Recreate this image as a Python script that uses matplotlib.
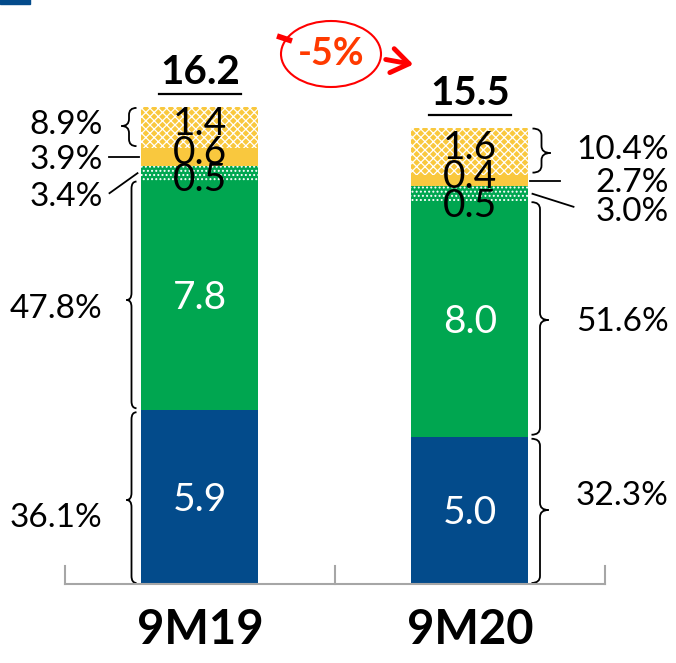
#!/usr/bin/env python3
"""Stacked bars 9M19 vs 9M20 with share brackets."""

import matplotlib

matplotlib.use("Agg")
import matplotlib.pyplot as plt
import numpy as np
from matplotlib.patches import Ellipse, FancyArrowPatch, PathPatch, Rectangle
from matplotlib.path import Path

plt.rcParams["font.family"] = ["Lato", "DejaVu Sans"]

# data (bottom to top)
periods = ["9M19", "9M20"]
blue_vals = [5.9, 5.0]
green_vals = [7.8, 8.0]
green_dot_vals = [0.5, 0.5]
yellow_vals = [0.6, 0.4]
yellow_pat_vals = [1.4, 1.6]
totals = [16.2, 15.5]
blue_pct = [36.1, 32.3]
green_pct = [47.8, 51.6]
green_dot_pct = [3.4, 3.0]
yellow_pct = [3.9, 2.7]
yellow_pat_pct = [8.9, 10.4]
change_label = "-5%"

BLUE = "#034B8B"
GREEN = "#00A650"
YELLOW = "#F9C83E"

# pixel helpers for the 676x663 canvas (bar centres at px 200 and 470)
PX_X = 270.0
PX_Y = 29.45
X0 = 200.0
BASE = 584.0


def dx(px):
    return px / PX_X


def dy(px):
    return px / PX_Y


def brace(ax, x_end, x_tip, y0, y1, y_tip):
    xm = (x_end + x_tip) / 2
    r = min(dy(7), (y1 - y0) / 4)
    rt = min(dy(7), (y_tip - y0) / 2, (y1 - y_tip) / 2)
    verts = [
        (x_end, y0), (xm, y0), (xm, y0 + r),
        (xm, y_tip - rt), (xm, y_tip), (x_tip, y_tip),
        (xm, y_tip), (xm, y_tip + rt),
        (xm, y1 - r), (xm, y1), (x_end, y1),
    ]
    codes = [
        Path.MOVETO, Path.CURVE3, Path.CURVE3,
        Path.LINETO, Path.CURVE3, Path.CURVE3,
        Path.CURVE3, Path.CURVE3,
        Path.LINETO, Path.CURVE3, Path.CURVE3,
    ]
    ax.add_patch(PathPatch(Path(verts, codes), fill=False, lw=1.3, color="black"))


fig = plt.figure(figsize=(6.76, 6.63), dpi=100)
ax = fig.add_axes([0, 0, 1, 1])
ax.set_xlim(-X0 / PX_X, (676 - X0) / PX_X)
ax.set_ylim(-(663 - BASE) / PX_Y, BASE / PX_Y)
ax.axis("off")

x = np.arange(len(periods))
width = dx(117)

# (values, colour, hatch, label colour, label nudge in px per bar; + = down)
series = [
    (blue_vals, BLUE, None, "white", (3, 3)),
    (green_vals, GREEN, None, "white", (3, 3)),
    (green_dot_vals, GREEN, "....", "black", (7, 12)),
    (yellow_vals, YELLOW, None, "black", (-4, -4)),
    (yellow_pat_vals, YELLOW, "xxxx", "black", (-4, -3)),
]
plt.rcParams["hatch.linewidth"] = 0.9
bottom = np.zeros(len(periods))
bounds = []
for vals, color, hatch, tcolor, nudge in series:
    vals = np.array(vals)
    ax.bar(x, vals, width, bottom=bottom, color=color, hatch=hatch,
           edgecolor="white" if hatch else color, linewidth=0)
    bounds.append((bottom.copy(), bottom + vals))
    for i, v in enumerate(vals):
        ax.text(x[i], bottom[i] + v / 2 - dy(nudge[i]), f"{v:.1f}", ha="center",
                va="center", fontsize=28, color=tcolor)
    bottom = bottom + vals

# totals, underlined
for i, t in enumerate(totals):
    ax.text(x[i], t + dy(34), f"{t:.1f}", ha="center", va="center",
            fontsize=29, fontweight="bold")
    ax.plot([x[i] - dx(41), x[i] + dx(41)], [t + dy(13)] * 2, color="black", lw=1.6)

# axis line with category separators
ax.plot([-0.5, 1.5], [0, 0], color="#A6A6A6", lw=1.5)
for xs in [-0.5, 0.5, 1.5]:
    ax.plot([xs, xs], [0, dy(18)], color="#A6A6A6", lw=1.5)
for i, p in enumerate(periods):
    ax.text(x[i], -dy(46), p, ha="center", va="center", fontsize=34, fontweight="bold")

# left side annotations (9M19)
lx = x[0] - width / 2
tx_left = lx - dx(39)
(b0, b1), (g0, g1), (gd0, gd1), (y0, y1), (yp0, yp1) = bounds
brace(ax, lx - dx(5), lx - dx(15), b0[0] + dy(1), b1[0] - dy(2), dy(BASE - 500))
brace(ax, lx - dx(5), lx - dx(15), g0[0] + dy(2), g1[0] - dy(1), dy(BASE - 300))
brace(ax, lx - dx(5), lx - dx(20), yp0[0] + dy(2), yp1[0] - dy(1), dy(BASE - 126))
ax.plot([lx - dx(32), lx - dx(2)], [(y0[0] + y1[0]) / 2] * 2, color="black", lw=1.3)
ax.plot([lx - dx(32), lx - dx(4)], [(gd0[0] + gd1[0]) / 2 - dy(20),
                                    (gd0[0] + gd1[0]) / 2], color="black", lw=1.3)
left_labels = [
    (blue_pct[0], dy(BASE - 518)),
    (green_pct[0], dy(BASE - 309)),
    (green_dot_pct[0], dy(BASE - 197)),
    (yellow_pct[0], dy(BASE - 160)),
    (yellow_pat_pct[0], dy(BASE - 125)),
]
for pct, ypos in left_labels:
    ax.text(tx_left, ypos, f"{pct:.1f}%", ha="right", va="center", fontsize=24)

# right side annotations (9M20)
rx = x[1] + width / 2
tx_right = rx + dx(140)
brace(ax, rx + dx(3), rx + dx(20), b0[1] + dy(1), b1[1] - dy(2), dy(BASE - 510))
brace(ax, rx + dx(3), rx + dx(20), g0[1] + dy(2), g1[1] - dy(1), dy(BASE - 320))
brace(ax, rx + dx(4), rx + dx(22), yp0[1] + dy(2), yp1[1] - dy(1), dy(BASE - 153))
ax.plot([rx + dx(2), rx + dx(32)], [(y0[1] + y1[1]) / 2] * 2, color="black", lw=1.3)
ax.plot([rx + dx(4), rx + dx(45)], [(gd0[1] + gd1[1]) / 2,
                                    (gd0[1] + gd1[1]) / 2 - dy(13)], color="black", lw=1.3)
right_labels = [
    (blue_pct[1], dy(BASE - 496)),
    (green_pct[1], dy(BASE - 322)),
    (green_dot_pct[1], dy(BASE - 212)),
    (yellow_pct[1], dy(BASE - 183)),
    (yellow_pat_pct[1], dy(BASE - 150)),
]
for pct, ypos in right_labels:
    ax.text(tx_right, ypos, f"{pct:.1f}%", ha="right", va="center", fontsize=24)

# change bubble
cx, cy = dx(331 - X0), dy(BASE - 54)
ax.plot([dx(277 - X0), dx(292 - X0)], [dy(BASE - 36), dy(BASE - 41)], color="red", lw=4,
        solid_capstyle="butt")
ax.add_patch(FancyArrowPatch((dx(383 - X0), dy(BASE - 59)), (dx(416 - X0), dy(BASE - 65)),
                             arrowstyle="->,head_length=5,head_width=3.5", color="red",
                             lw=3.5, mutation_scale=2.5))
ax.add_patch(Ellipse((cx, cy), dx(100), dy(66), facecolor="white", edgecolor="red", lw=1.5))
ax.text(cx, cy, change_label, ha="center", va="center", fontsize=27, fontweight="bold",
        color="#FF3A00")

# clipped legend marker at top-left
ax.add_patch(Rectangle((dx(0 - X0), dy(BASE - 4)), dx(30), dy(8), color=BLUE, clip_on=True))

fig.savefig("out.png", dpi=100)
